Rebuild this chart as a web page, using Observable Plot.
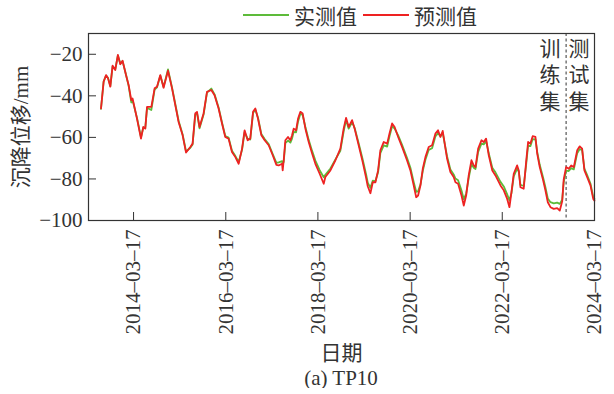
<!DOCTYPE html>
<html><head><meta charset="utf-8">
<script src="https://cdn.jsdelivr.net/npm/d3@7"></script>
<script src="https://cdn.jsdelivr.net/npm/@observablehq/plot@0.6"></script>
<style>
body{margin:0;background:#fff;color:#333;font-family:"Liberation Serif","Times New Roman","Noto Sans CJK SC",serif;}
#legend{height:30px;display:flex;align-items:center;padding-left:243px;font-size:21px;box-sizing:border-box;}
#legend .sw{display:inline-block;width:46px;height:2px;margin-right:5px;}
#legend .lab{margin-right:6px;}
#caption{width:506px;margin-left:88px;text-align:center;font-size:21px;line-height:20px;}
</style></head><body>
<div id="legend"><span class="sw" style="background:#5dbb3a"></span><span class="lab">实测值</span><span class="sw" style="background:#ee2222"></span><span class="lab">预测值</span></div>
<div id="chart"></div>
<div id="caption">(a) TP10</div>
<script>
const dates = ["2013-07-02","2013-07-23","2013-08-11","2013-08-27","2013-09-14","2013-10-02","2013-10-23","2013-11-13","2013-12-02","2013-12-20",
"2014-01-16","2014-02-06","2014-02-27","2014-03-09","2014-04-13","2014-05-15","2014-06-02","2014-06-18","2014-07-02","2014-08-05",
"2014-08-31","2014-09-19","2014-10-15","2014-11-10","2014-12-15","2015-01-16","2015-03-09","2015-04-10","2015-05-07","2015-06-10",
"2015-06-28","2015-07-19","2015-08-02","2015-08-22","2015-09-23","2015-10-20","2015-11-23","2015-12-19","2016-01-20","2016-02-16",
"2016-03-13","2016-04-08","2016-05-05","2016-06-01","2016-06-27","2016-07-24","2016-08-13","2016-09-06","2016-09-27","2016-10-19",
"2016-11-06","2016-11-27","2016-12-24","2017-01-19","2017-02-20","2017-03-24","2017-04-22","2017-05-10","2017-06-06","2017-06-11",
"2017-06-19","2017-07-02","2017-07-23","2017-08-11","2017-08-24","2017-09-06","2017-09-25","2017-10-11","2017-10-29","2017-11-16",
"2017-12-08","2018-01-03","2018-01-30","2018-02-25","2018-03-31","2018-05-02","2018-05-15","2018-06-24","2018-08-03","2018-09-11",
"2018-10-07","2018-10-26","2018-11-16","2018-12-13","2019-01-02","2019-02-03","2019-03-07","2019-04-03","2019-04-16","2019-05-07",
"2019-05-26","2019-06-16","2019-07-07","2019-07-25","2019-08-21","2019-09-17","2019-10-05","2019-10-26","2019-11-15","2019-12-13",
"2020-01-13","2020-02-21","2020-03-19","2020-04-14","2020-05-04","2020-05-19","2020-06-07","2020-06-25","2020-07-16","2020-08-11",
"2020-09-07","2020-10-03","2020-10-24","2020-11-12","2020-11-30","2021-01-04","2021-01-30","2021-02-25","2021-03-11","2021-04-01",
"2021-04-28","2021-05-16","2021-06-04","2021-06-24","2021-07-16","2021-08-03","2021-08-17","2021-09-07","2021-10-03","2021-10-21",
"2021-11-09","2021-11-30","2021-12-28","2022-01-22","2022-03-03","2022-03-29","2022-04-25","2022-05-13","2022-05-29","2022-06-16",
"2022-07-13","2022-07-26","2022-08-08","2022-09-03","2022-09-22","2022-10-08","2022-10-26","2022-11-13","2022-12-05","2022-12-19",
"2023-01-08","2023-02-04","2023-02-22","2023-03-13","2023-04-03","2023-04-29","2023-05-26","2023-06-16","2023-07-05","2023-07-17",
"2023-08-05","2023-08-26","2023-09-14","2023-10-05","2023-11-01","2023-11-21","2023-12-10","2023-12-28","2024-01-19","2024-02-14",
"2024-03-07","2024-03-17"];

const predicted = [-46.1,-33.2,-30.0,-31.6,-35.6,-25.5,-27.6,-20.3,-24.8,-23.1,
-30.0,-34.8,-42.1,-41.3,-50.9,-60.6,-55.0,-55.8,-45.3,-45.3,
-36.4,-35.6,-30.0,-36.1,-27.9,-36.4,-52.6,-59.0,-67.3,-64.6,
-63.0,-48.5,-47.7,-55.0,-48.5,-38.1,-37.2,-39.7,-46.1,-53.3,
-59.8,-60.6,-67.0,-69.5,-72.7,-65.4,-56.6,-61.4,-60.6,-47.7,
-46.1,-50.9,-59.0,-61.4,-63.8,-68.6,-73.2,-73.5,-72.7,-75.9,
-71.0,-61.4,-59.8,-61.4,-59.0,-55.8,-56.6,-50.9,-47.7,-48.5,
-55.8,-62.2,-67.8,-72.7,-77.5,-82.3,-79.1,-75.9,-71.0,-65.4,
-55.8,-50.6,-55.0,-51.7,-55.8,-63.8,-71.9,-79.5,-83.5,-86.9,
-81.6,-81.6,-75.9,-66.2,-62.2,-63.0,-58.2,-53.3,-55.0,-59.8,
-64.6,-71.0,-75.9,-83.1,-88.8,-88.0,-83.1,-75.1,-69.5,-64.6,
-63.8,-58.2,-56.6,-59.8,-56.9,-70.3,-76.7,-79.1,-81.6,-82.3,
-88.0,-92.8,-88.0,-78.3,-71.0,-73.5,-74.3,-65.4,-61.4,-62.2,
-60.6,-68.6,-75.9,-78.3,-83.1,-85.5,-89.6,-93.6,-86.4,-77.5,
-73.5,-75.9,-84.0,-84.7,-71.9,-62.2,-63.0,-59.4,-59.8,-67.8,
-74.3,-80.7,-85.5,-91.2,-93.6,-94.4,-94.0,-95.2,-90.7,-80.2,
-74.3,-75.1,-73.5,-74.3,-66.2,-64.3,-65.4,-75.9,-79.1,-83.1,
-89.6,-90.5];

const measured = [-46.3,-33.0,-30.3,-31.4,-35.3,-25.8,-27.3,-20.6,-24.5,-23.3,
-29.7,-35.2,-43.2,-42.0,-50.5,-60.0,-55.4,-55.5,-45.8,-46.8,
-37.0,-35.9,-30.3,-35.7,-27.3,-36.0,-52.0,-58.6,-66.8,-65.0,
-63.4,-49.2,-48.3,-55.6,-49.0,-38.5,-36.5,-39.3,-45.6,-52.8,
-59.3,-60.1,-66.4,-69.0,-71.8,-66.0,-57.5,-60.6,-61.0,-48.3,
-46.6,-50.4,-58.4,-60.8,-63.2,-68.0,-72.3,-72.0,-71.4,-72.8,
-71.8,-62.8,-61.5,-62.5,-60.6,-57.4,-57.6,-52.3,-48.6,-49.2,
-55.0,-61.2,-66.5,-71.2,-75.8,-79.2,-78.0,-75.0,-70.6,-66.4,
-57.2,-51.6,-55.8,-52.6,-55.4,-62.8,-70.6,-77.8,-81.8,-84.3,
-80.8,-81.0,-76.8,-67.6,-63.8,-64.4,-59.6,-54.6,-55.8,-59.0,
-63.6,-69.8,-74.6,-81.4,-86.2,-86.0,-82.6,-76.2,-70.8,-66.0,
-65.2,-59.6,-58.0,-59.4,-57.8,-69.2,-75.4,-77.8,-79.8,-80.6,
-85.6,-89.8,-87.0,-79.6,-72.8,-74.6,-75.2,-67.0,-63.0,-63.4,
-61.8,-67.6,-74.6,-76.8,-81.4,-83.6,-87.4,-90.4,-86.8,-78.8,
-75.0,-76.6,-82.8,-83.4,-73.4,-63.8,-64.2,-60.8,-61.0,-67.0,
-73.2,-79.4,-84.0,-89.4,-91.2,-91.8,-91.4,-92.0,-90.0,-81.6,
-76.0,-76.2,-74.8,-75.4,-67.6,-65.6,-66.2,-75.0,-78.2,-82.2,
-88.6,-89.6];

const xTickLabels = ["2014-03-17","2016-03-17","2018-03-17","2020-03-17","2022-03-17","2024-03-17"];
const yTicks = [-100, -80, -60, -40, -20];
const xDomain = ["2013-03-25", "2024-03-17"];
const yDomain = [-100, -10];
const splitDate = "2023-08-05";
const seriesNames = ["实测值", "预测值"];
const regionLabels = ["训\n练\n集", "测\n试\n集"];

const parse = d3.utcParse("%Y-%m-%d");
const data = dates.map((d, i) => ({date: parse(d), measured: measured[i], predicted: predicted[i]}));
const xTicks = xTickLabels.map(parse);
const split = parse(splitDate);

const W = 614, H = 338, mL = 88, mR = 20, mT = 3, mB = 148;
const pw = W - mL - mR, ph = H - mT - mB;
const fmt = d3.utcFormat("%Y–%m–%d");

const chart = Plot.plot({
  width: W, height: H,
  marginLeft: mL, marginRight: mR, marginTop: mT, marginBottom: mB,
  style: {fontSize: "21px", fontFamily: "'Liberation Serif','Times New Roman','Noto Sans CJK SC',serif", color: "#333", background: "#fff"},
  x: {type: "utc", domain: xDomain.map(parse)},
  y: {domain: yDomain},
  marks: [
    Plot.tickX(xTicks, {x: d => d, insetTop: ph - 8, stroke: "#333"}),
    Plot.tickY(yTicks, {y: d => d, insetRight: pw - 8, stroke: "#333"}),
    Plot.axisX(xTicks, {tickSize: 0, tickPadding: 9, tickRotate: -90, tickFormat: fmt,
      label: "日期", labelAnchor: "center", labelOffset: 139, labelArrow: "none"}),
    Plot.axisY(yTicks, {tickSize: 0, tickPadding: 6,
      label: "沉降位移/mm", labelAnchor: "center", labelOffset: 75, labelArrow: "none"}),
    Plot.ruleX([split], {stroke: "#333", strokeDasharray: "3,2.5", strokeWidth: 1}),
    Plot.line(data, {x: "date", y: "measured", stroke: "#5dbb3a", strokeWidth: 1.8}),
    Plot.line(data, {x: "date", y: "predicted", stroke: "#ee2222", strokeWidth: 1.8}),
    Plot.text([regionLabels[0]], {x: () => split, frameAnchor: "top", text: d => d, dx: -16, dy: 3, lineAnchor: "top", lineHeight: 1.28, fill: "#333"}),
    Plot.text([regionLabels[1]], {x: () => split, frameAnchor: "top", text: d => d, dx: 13, dy: 3, lineAnchor: "top", lineHeight: 1.28, fill: "#333"}),
    Plot.frame({stroke: "#333", strokeWidth: 1.2})
  ]
});
document.getElementById("chart").appendChild(chart);
</script>
</body></html>
